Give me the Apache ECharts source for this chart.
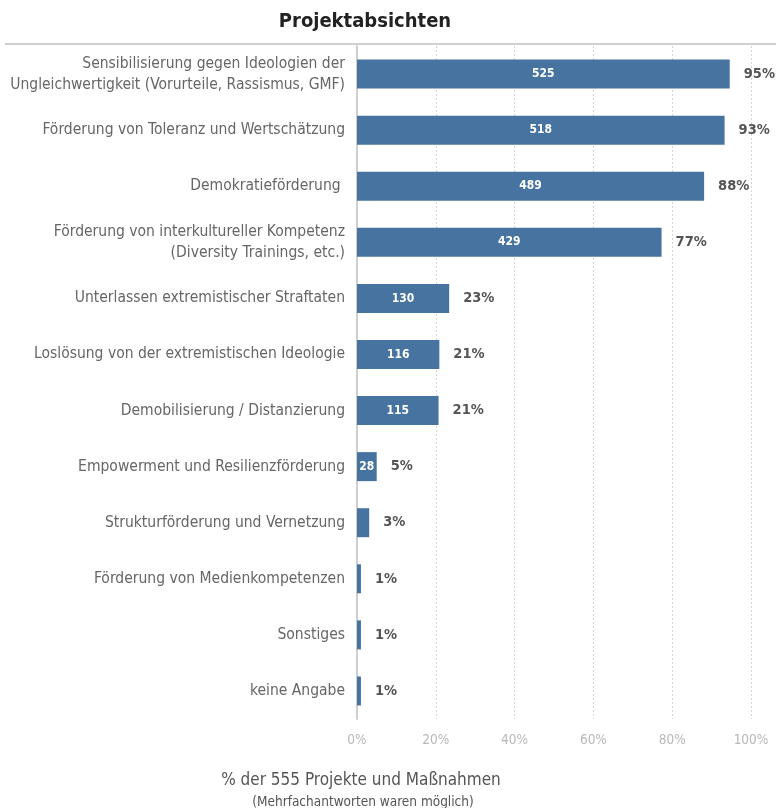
<!DOCTYPE html>
<html><head><meta charset="utf-8">
<script src="https://cdn.jsdelivr.net/npm/echarts@6/dist/echarts.min.js"></script>
<style>html,body{margin:0;padding:0;background:#fff}#c{width:776px;height:808px}</style>
</head><body><div id="c"></div>
<script>
const categories = [
  "Sensibilisierung gegen Ideologien der\nUngleichwertigkeit (Vorurteile, Rassismus, GMF)",
  "Förderung von Toleranz und Wertschätzung",
  "Demokratieförderung ",
  "Förderung von interkultureller Kompetenz\n(Diversity Trainings, etc.)",
  "Unterlassen extremistischer Straftaten",
  "Loslösung von der extremistischen Ideologie",
  "Demobilisierung / Distanzierung",
  "Empowerment und Resilienzförderung",
  "Strukturförderung und Vernetzung",
  "Förderung von Medienkompetenzen",
  "Sonstiges",
  "keine Angabe"
];
const percentValues = [94.6, 93.3, 88.1, 77.3, 23.4, 20.9, 20.7, 5.0, 3.1, 1.0, 1.0, 1.0];
const countLabels = ["525", "518", "489", "429", "130", "116", "115", "28", "", "", "", ""];
const percentLabels = ["95%", "93%", "88%", "77%", "23%", "21%", "21%", "5%", "3%", "1%", "1%", "1%"];
const tickValues = [0, 20, 40, 60, 80, 100];

const FONT = '"DejaVu Sans Condensed", "Liberation Sans Narrow", sans-serif';
const chart = echarts.init(document.getElementById('c'));
chart.setOption({
  animation: false,
  textStyle: { fontFamily: FONT },
  title: [
    { text: 'Projektabsichten', left: 360, top: 7, textAlign: 'center',
      textStyle: { fontFamily: FONT, fontSize: 20, fontWeight: 'bold', color: '#222' } },
    { text: '% der 555 Projekte und Maßnahmen', left: 356, top: 767, textAlign: 'center',
      textStyle: { fontFamily: FONT, fontSize: 17, fontWeight: 'normal', color: '#555' } },
    { text: '(Mehrfachantworten waren möglich)', left: 358, top: 790, textAlign: 'center',
      textStyle: { fontFamily: FONT, fontSize: 13.5, fontWeight: 'normal', color: '#555' } }
  ],
  graphic: [
    { type: 'line', shape: { x1: 5, y1: 44, x2: 776, y2: 44 }, style: { stroke: '#d0d0d0', lineWidth: 2 } }
  ],
  grid: { left: 357, right: 25, top: 46, bottom: 89, containLabel: false },
  xAxis: {
    type: 'value', min: tickValues[0], max: tickValues[tickValues.length - 1], interval: 20,
    axisLine: { show: false }, axisTick: { show: false },
    axisLabel: { formatter: v => v + '%', color: '#b8b8b8', fontSize: 13.5, margin: 14 },
    splitLine: { show: true, lineStyle: { color: '#d5d5d5', type: [2, 2], width: 1 } }
  },
  yAxis: {
    type: 'category', data: categories, inverse: true,
    axisLine: { show: true, lineStyle: { color: '#cfcfcf', width: 2 } },
    axisTick: { show: false },
    axisLabel: { color: '#666', fontSize: 15.5, margin: 12, align: 'right', lineHeight: 21 }
  },
  series: [
    {
      type: 'bar', data: percentValues, barWidth: 29,
      itemStyle: { color: '#46739f' },
      label: { show: true, position: 'inside', formatter: p => countLabels[p.dataIndex],
        color: '#fff', fontWeight: 'bold', fontSize: 12, fontFamily: FONT }
    },
    {
      type: 'bar', data: percentValues, barWidth: 29, barGap: '-100%',
      itemStyle: { color: 'rgba(0,0,0,0)' }, silent: true,
      label: { show: true, position: 'right', distance: 14, formatter: p => percentLabels[p.dataIndex],
        color: '#555', fontWeight: 'bold', fontSize: 14.5, fontFamily: FONT }
    }
  ]
});
</script></body></html>
